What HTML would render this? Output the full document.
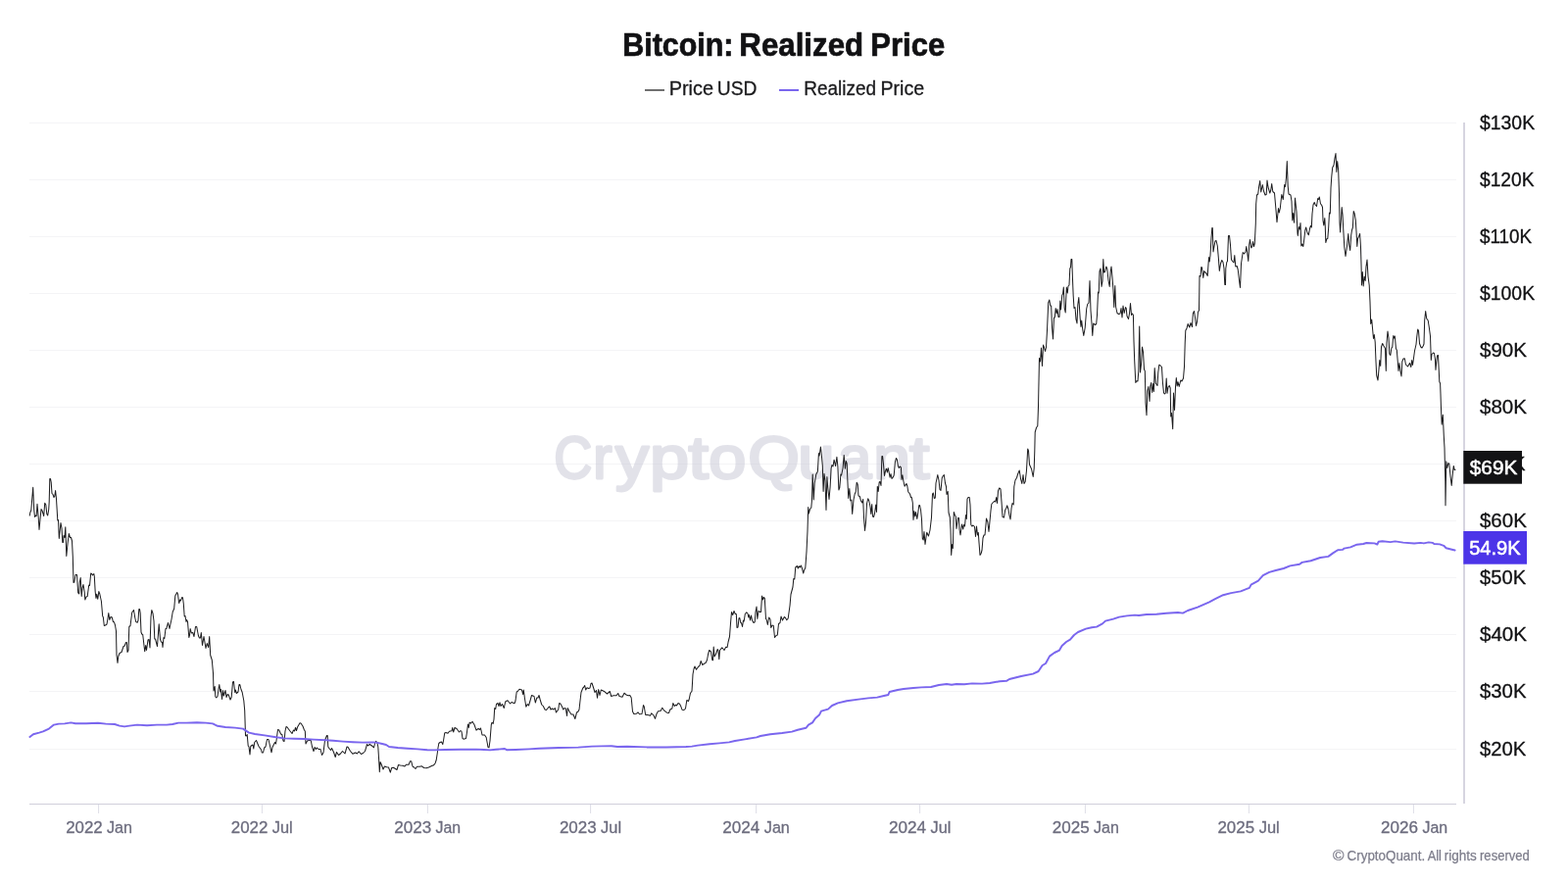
<!DOCTYPE html>
<html lang="en">
<head>
<meta charset="utf-8">
<title>Bitcoin: Realized Price</title>
<style>
html,body{margin:0;padding:0;background:#fff;}
body{width:1600px;height:900px;overflow:hidden;font-family:"Liberation Sans",sans-serif;}
svg{display:block;position:absolute;left:0;top:0;}
text{font-family:"Liberation Sans",sans-serif;}
</style>
</head>
<body>
<svg width="1600" height="900" viewBox="0 0 1600 900" role="img" aria-label="Bitcoin: Realized Price chart">
<rect width="1600" height="900" fill="#ffffff"/>
<text font-size="32.3" fill="#111113" font-weight="700" stroke="#111113" stroke-width="0.7" stroke-linejoin="round"><tspan x="635.3" y="57" textLength="113.19" lengthAdjust="spacingAndGlyphs">Bitcoin:</tspan> <tspan x="754.35" y="57" textLength="126.77" lengthAdjust="spacingAndGlyphs">Realized</tspan> <tspan x="888.27" y="57" textLength="75.87" lengthAdjust="spacingAndGlyphs">Price</tspan></text>
<rect x="658" y="91" width="20" height="2" fill="#707070"/>
<text font-size="19.7" fill="#1b1b1d" stroke="#1b1b1d" stroke-width="0.3" stroke-linejoin="round"><tspan x="682.69" y="96.6" textLength="45.31" lengthAdjust="spacingAndGlyphs">Price</tspan> <tspan x="731.81" y="96.6" textLength="40.62" lengthAdjust="spacingAndGlyphs">USD</tspan></text>
<rect x="795" y="91" width="20" height="2" fill="#7a66ee"/>
<text font-size="19.7" fill="#1b1b1d" stroke="#1b1b1d" stroke-width="0.3" stroke-linejoin="round"><tspan x="820.26" y="96.6" textLength="73.81" lengthAdjust="spacingAndGlyphs">Realized</tspan> <tspan x="898.41" y="96.6" textLength="44.78" lengthAdjust="spacingAndGlyphs">Price</tspan></text>
<g stroke="#f4f4f6" stroke-width="1.2" fill="none">
<line x1="30" y1="125.5" x2="1486" y2="125.5"/>
<line x1="30" y1="183.5" x2="1486" y2="183.5"/>
<line x1="30" y1="241.5" x2="1486" y2="241.5"/>
<line x1="30" y1="299.5" x2="1486" y2="299.5"/>
<line x1="30" y1="357.5" x2="1486" y2="357.5"/>
<line x1="30" y1="415.5" x2="1486" y2="415.5"/>
<line x1="30" y1="473.5" x2="1486" y2="473.5"/>
<line x1="30" y1="531.5" x2="1486" y2="531.5"/>
<line x1="30" y1="589.5" x2="1486" y2="589.5"/>
<line x1="30" y1="647.5" x2="1486" y2="647.5"/>
<line x1="30" y1="705.5" x2="1486" y2="705.5"/>
<line x1="30" y1="764.5" x2="1486" y2="764.5"/>
</g>
<text font-size="62" fill="#c7c7d5" stroke="#c7c7d5" stroke-width="2.8" stroke-linejoin="round" opacity="0.5"><tspan x="565.25" y="487.8" textLength="38.99" lengthAdjust="spacingAndGlyphs">C</tspan><tspan x="605.33" y="487.8" textLength="19.32" lengthAdjust="spacingAndGlyphs">r</tspan><tspan x="628.12" y="487.8" textLength="34.02" lengthAdjust="spacingAndGlyphs">y</tspan><tspan x="662.95" y="487.8" textLength="39.98" lengthAdjust="spacingAndGlyphs">p</tspan><tspan x="702.64" y="487.8" textLength="20.36" lengthAdjust="spacingAndGlyphs">t</tspan><tspan x="723.33" y="487.8" textLength="38.04" lengthAdjust="spacingAndGlyphs">o</tspan><tspan x="763.39" y="487.8" textLength="52.68" lengthAdjust="spacingAndGlyphs">Q</tspan><tspan x="814.36" y="487.8" textLength="37.28" lengthAdjust="spacingAndGlyphs">u</tspan><tspan x="854.92" y="487.8" textLength="34.32" lengthAdjust="spacingAndGlyphs">a</tspan><tspan x="891.17" y="487.8" textLength="37.73" lengthAdjust="spacingAndGlyphs">n</tspan><tspan x="928.04" y="487.8" textLength="20.36" lengthAdjust="spacingAndGlyphs">t</tspan></text>
<text font-size="19.4" fill="#111113" stroke="#111113" stroke-width="0.3" stroke-linejoin="round"><tspan x="1510" y="131.8" textLength="56.08" lengthAdjust="spacingAndGlyphs">$130K</tspan></text>
<text font-size="19.4" fill="#111113" stroke="#111113" stroke-width="0.3" stroke-linejoin="round"><tspan x="1510" y="189.8" textLength="55.57" lengthAdjust="spacingAndGlyphs">$120K</tspan></text>
<text font-size="19.4" fill="#111113" stroke="#111113" stroke-width="0.3" stroke-linejoin="round"><tspan x="1510.01" y="247.8" textLength="53.12" lengthAdjust="spacingAndGlyphs">$110K</tspan></text>
<text font-size="19.4" fill="#111113" stroke="#111113" stroke-width="0.3" stroke-linejoin="round"><tspan x="1510" y="305.8" textLength="56.08" lengthAdjust="spacingAndGlyphs">$100K</tspan></text>
<text font-size="19.4" fill="#111113" stroke="#111113" stroke-width="0.3" stroke-linejoin="round"><tspan x="1509.98" y="363.8" textLength="48.03" lengthAdjust="spacingAndGlyphs">$90K</tspan></text>
<text font-size="19.4" fill="#111113" stroke="#111113" stroke-width="0.3" stroke-linejoin="round"><tspan x="1509.98" y="421.8" textLength="48.03" lengthAdjust="spacingAndGlyphs">$80K</tspan></text>
<text font-size="19.4" fill="#111113" stroke="#111113" stroke-width="0.3" stroke-linejoin="round"><tspan x="1509.99" y="479.8" textLength="46.61" lengthAdjust="spacingAndGlyphs">$70K</tspan></text>
<text font-size="19.4" fill="#111113" stroke="#111113" stroke-width="0.3" stroke-linejoin="round"><tspan x="1509.98" y="537.8" textLength="47.83" lengthAdjust="spacingAndGlyphs">$60K</tspan></text>
<text font-size="19.4" fill="#111113" stroke="#111113" stroke-width="0.3" stroke-linejoin="round"><tspan x="1509.99" y="595.8" textLength="47.12" lengthAdjust="spacingAndGlyphs">$50K</tspan></text>
<text font-size="19.4" fill="#111113" stroke="#111113" stroke-width="0.3" stroke-linejoin="round"><tspan x="1509.98" y="653.8" textLength="48.03" lengthAdjust="spacingAndGlyphs">$40K</tspan></text>
<text font-size="19.4" fill="#111113" stroke="#111113" stroke-width="0.3" stroke-linejoin="round"><tspan x="1509.98" y="711.8" textLength="47.52" lengthAdjust="spacingAndGlyphs">$30K</tspan></text>
<text font-size="19.4" fill="#111113" stroke="#111113" stroke-width="0.3" stroke-linejoin="round"><tspan x="1509.98" y="770.8" textLength="47.32" lengthAdjust="spacingAndGlyphs">$20K</tspan></text>
<line x1="30" y1="820.5" x2="1486" y2="820.5" stroke="#d0cfdb" stroke-width="1.2"/>
<line x1="1494" y1="125" x2="1494" y2="820" stroke="#d2d1dd" stroke-width="1.8"/>
<g stroke="#dedee7" stroke-width="1">
<line x1="100.6" y1="821" x2="100.6" y2="830"/>
<line x1="267.4" y1="821" x2="267.4" y2="830"/>
<line x1="436.4" y1="821" x2="436.4" y2="830"/>
<line x1="602.6" y1="821" x2="602.6" y2="830"/>
<line x1="771.6" y1="821" x2="771.6" y2="830"/>
<line x1="938.6" y1="821" x2="938.6" y2="830"/>
<line x1="1107.4" y1="821" x2="1107.4" y2="830"/>
<line x1="1274.4" y1="821" x2="1274.4" y2="830"/>
<line x1="1442.4" y1="821" x2="1442.4" y2="830"/>
</g>
<text font-size="16.3" fill="#6c6c7e" stroke="#6c6c7e" stroke-width="0.3" stroke-linejoin="round"><tspan x="67.22" y="849.8" textLength="37.51" lengthAdjust="spacingAndGlyphs">2022</tspan> <tspan x="108.91" y="849.8" textLength="25.96" lengthAdjust="spacingAndGlyphs">Jan</tspan></text>
<text font-size="16.3" fill="#6c6c7e" stroke="#6c6c7e" stroke-width="0.3" stroke-linejoin="round"><tspan x="235.81" y="849.8" textLength="37.57" lengthAdjust="spacingAndGlyphs">2022</tspan> <tspan x="277.85" y="849.8" textLength="20.91" lengthAdjust="spacingAndGlyphs">Jul</tspan></text>
<text font-size="16.3" fill="#6c6c7e" stroke="#6c6c7e" stroke-width="0.3" stroke-linejoin="round"><tspan x="402.31" y="849.8" textLength="37.98" lengthAdjust="spacingAndGlyphs">2023</tspan> <tspan x="444.61" y="849.8" textLength="25.54" lengthAdjust="spacingAndGlyphs">Jan</tspan></text>
<text font-size="16.3" fill="#6c6c7e" stroke="#6c6c7e" stroke-width="0.3" stroke-linejoin="round"><tspan x="570.91" y="849.8" textLength="37.78" lengthAdjust="spacingAndGlyphs">2023</tspan> <tspan x="613.1" y="849.8" textLength="20.97" lengthAdjust="spacingAndGlyphs">Jul</tspan></text>
<text font-size="16.3" fill="#6c6c7e" stroke="#6c6c7e" stroke-width="0.3" stroke-linejoin="round"><tspan x="737.31" y="849.8" textLength="38.05" lengthAdjust="spacingAndGlyphs">2024</tspan> <tspan x="779.8" y="849.8" textLength="26.07" lengthAdjust="spacingAndGlyphs">Jan</tspan></text>
<text font-size="16.3" fill="#6c6c7e" stroke="#6c6c7e" stroke-width="0.3" stroke-linejoin="round"><tspan x="907.06" y="849.8" textLength="38.1" lengthAdjust="spacingAndGlyphs">2024</tspan> <tspan x="949.55" y="849.8" textLength="20.91" lengthAdjust="spacingAndGlyphs">Jul</tspan></text>
<text font-size="16.3" fill="#6c6c7e" stroke="#6c6c7e" stroke-width="0.3" stroke-linejoin="round"><tspan x="1073.71" y="849.8" textLength="37.97" lengthAdjust="spacingAndGlyphs">2025</tspan> <tspan x="1116.01" y="849.8" textLength="25.8" lengthAdjust="spacingAndGlyphs">Jan</tspan></text>
<text font-size="16.3" fill="#6c6c7e" stroke="#6c6c7e" stroke-width="0.3" stroke-linejoin="round"><tspan x="1242.46" y="849.8" textLength="37.61" lengthAdjust="spacingAndGlyphs">2025</tspan> <tspan x="1284.7" y="849.8" textLength="21.07" lengthAdjust="spacingAndGlyphs">Jul</tspan></text>
<text font-size="16.3" fill="#6c6c7e" stroke="#6c6c7e" stroke-width="0.3" stroke-linejoin="round"><tspan x="1409.11" y="849.8" textLength="37.89" lengthAdjust="spacingAndGlyphs">2026</tspan> <tspan x="1451.46" y="849.8" textLength="25.7" lengthAdjust="spacingAndGlyphs">Jan</tspan></text>
<path d="M30.2 526.5 L30.8 523 L31.8 520.5 L33.7 497.2 L34.7 520 L35.5 527.5 L36.5 526 L37.2 526.5 L38 514.2 L39.2 528 L40 540.5 L41 530 L42 519.5 L43 521 L44.7 526.5 L45.7 513.2 L46.8 515 L47.8 524.5 L48.7 526 L49.7 520 L50.2 512 L50.8 488.5 L51.5 488.5 L52.2 492 L53 503.5 L54 504.5 L55 507.5 L55.8 506.5 L56.6 500.5 L57.5 509 L58.8 531 L59.5 530.5 L60.3 549.5 L61.2 541 L62 533.5 L63 539 L63.8 553.5 L64.5 553.5 L65 546.5 L66 548.5 L66.8 537.8 L67.8 567.5 L69 555 L70.3 544.5 L71.5 548.5 L72.5 548.5 L73.5 552 L74.3 568 L75 594.5 L75.8 594 L77 586.5 L78.5 586.5 L79.7 605 L80.7 606 L81.3 594 L82.2 589.5 L83.2 608.5 L84 600 L85 596.5 L86.2 604 L86.8 612 L88 609 L89.2 608.5 L90.7 597 L91.5 597.5 L92.7 585 L94 586 L94.5 587 L95.8 585.5 L96.3 588 L97.2 604 L98 610.5 L98.7 606.2 L99.8 611.3 L100.8 603.5 L101.8 606 L103.4 613.5 L104.7 628.8 L105.3 629.5 L106.3 638.5 L107.5 638 L109 637 L110 631 L110.8 625.5 L111.8 632.5 L113 629.5 L114.2 629.8 L115.5 634.5 L116.5 634.8 L117.5 638 L118.5 644 L119 668.5 L120 676.5 L120.7 670 L122 666.5 L124 665.5 L126 659.5 L127.2 659 L128.5 655.5 L129.3 655.5 L130 665.5 L131 663.5 L131.8 639.5 L133 638.5 L134.7 625 L136.5 622.5 L137.7 630 L138.7 634.5 L140.2 635.2 L141 633 L141.8 621.5 L142.5 621.5 L143.2 625.5 L144 645 L144.7 647 L145.7 647.5 L147.7 664.8 L148.7 658.5 L149.5 663.5 L151 653 L152 652.5 L153 661 L154 629.5 L154.8 622.5 L156 626 L157 633.5 L157.8 652 L158.5 652 L160.5 659.5 L162.2 636.8 L163.5 652.5 L164.5 655 L165.5 655.5 L166 660.5 L167 650.5 L167.8 651.5 L169 641.5 L169.8 641.5 L171.5 635.5 L173 641.5 L174 636.5 L175 632 L176.2 624.5 L177.7 621 L178.8 608 L180.7 604.5 L181.5 606.5 L182.7 615.5 L183.7 612 L184.3 613 L185.8 609.5 L186.5 610 L187.3 616 L188.2 629 L189 628.5 L190 634.5 L190.5 632.5 L191.5 634.5 L192.8 650.5 L193.5 648 L194.2 641.5 L195.3 646 L196.8 645.5 L198 649.5 L199.5 639.5 L200.7 639.5 L202.5 649 L203.5 651 L204.5 651 L205.3 645.5 L206.5 658.5 L208 649.5 L210 661.5 L211.2 656.5 L212.7 660.5 L213.7 649.5 L214.7 668.5 L216.3 673.5 L217.5 687 L218 705 L219.2 700.5 L219.8 711 L220.8 712 L222 710.5 L223 703 L223.8 698.5 L224.8 706 L225.5 703.5 L226.5 713.5 L227.5 704.5 L228.3 710 L229.2 707 L230 704.5 L231 711.5 L232.2 708.5 L233.2 709 L235 714 L236.2 711.5 L237.5 696 L238.5 695.5 L239.7 706.5 L240.3 704 L241.3 707.5 L243 706 L244 698.5 L244.8 698.5 L246 703.5 L247.2 706.5 L248.8 715 L249.7 725 L250.5 750.5 L251.2 751 L252.2 749.5 L253.2 761 L254 762 L255 770 L255.8 761.5 L257 760.5 L258 760 L258.8 764 L259.7 757.5 L261.5 755.5 L264 761.5 L266.5 765 L267.2 768 L268.5 768 L269.7 763 L271 762 L272.5 754.5 L274 754.5 L275.5 761 L277 767.8 L278 762.5 L280.5 757.5 L281.5 759 L282.2 754.5 L283.5 744.5 L284.8 745 L286.5 749 L287.8 749.5 L289 756 L290 756.5 L291 746 L292 741.5 L293 742 L296 746 L298 748.5 L299.5 745 L300.5 746 L301.5 742.5 L302.5 745.5 L303.5 742 L306 737.8 L307 738 L309 741 L310.5 745 L311.3 746 L312 759 L313.5 756 L315 755.5 L317.2 755.5 L318.5 762 L320 766.5 L321.2 762.5 L322.5 764.5 L323.5 763 L325 764.5 L327 764.5 L328.5 770.5 L330 768 L331.5 755.5 L333.5 750.5 L334.2 750.5 L334.8 762 L336.5 764.5 L337.5 765.5 L338.5 763.5 L340.5 767.5 L342.2 772.5 L343.5 767.5 L345.5 770.5 L347.5 769 L349.5 766.5 L352 769 L354 762 L355 762.2 L357.5 766.5 L360 769.3 L362.5 768 L364.5 769 L366.2 766.8 L368.5 769.5 L370.5 768.5 L372.5 766.5 L374.5 759.5 L375.5 761 L377.2 759.3 L379.5 761 L381.5 762.8 L382.8 757.5 L383.7 756.3 L385 758.5 L385.8 762 L386.5 773 L387.3 787.8 L388 777.5 L389 779.5 L391 785 L392.5 782 L394.5 782.8 L396.5 783 L398.3 788.2 L399.7 783.5 L401.5 783.2 L403.5 784.5 L405 785.5 L406.5 780.5 L408.5 781 L411 781.2 L413 782 L414.5 780.2 L417 780.2 L418.5 776.8 L419.7 776.8 L421 782 L422.5 783 L424 784.5 L425.5 782.2 L428 782.2 L430.5 781.8 L432.5 783.5 L435 783.8 L437.5 783 L440 781.8 L442.5 780.8 L444 779 L445.2 775.5 L446.2 769 L447 763 L447.8 758.5 L449 757.5 L450.5 757 L451.8 759.5 L452.7 754.5 L453.7 748 L455 747.5 L457 748.2 L458.5 746.2 L461 745.8 L461.7 742.5 L462.7 747 L464 742.5 L466 743.5 L468.5 747 L470 745.5 L471 746.5 L472 753.5 L473 754.2 L475.5 753.5 L476.5 747 L477.5 739 L478.3 742.5 L479.2 737.2 L480.7 738 L482 736.2 L484 739.5 L486 745.2 L488 743.5 L489.5 744.5 L490.5 743 L492 750 L494.5 750 L496.2 752.5 L498 762.5 L499 762.8 L500 756 L501.3 739.5 L502 737.2 L503.2 738.5 L504 734 L504.7 722.5 L505.7 723.5 L506.5 718.5 L508 717.5 L509 720.5 L510 716.8 L511 720.5 L512.5 718.5 L514.3 722.5 L515.7 716 L518 714.8 L520.5 718 L522 716.5 L525 717.8 L526 715 L527.2 706 L528.2 705.5 L530 703.2 L532.5 704 L533.7 708.5 L534.3 704 L535.5 713 L536.8 721.2 L538.3 718.5 L539.5 720 L541 715 L542.5 709.5 L545 710.5 L546.3 717 L547.8 712 L549 712 L550 709.5 L551.2 714 L552.7 719 L554.3 720.5 L556 724 L557.5 724.5 L559.5 722 L560.8 721 L562 724 L563.5 723 L564.8 724 L566.3 722.5 L567.5 727 L569.7 724 L570.7 717.5 L571.8 718 L573.5 721 L574.8 724 L576 722.5 L577.3 723 L578.5 730.5 L579.2 722.5 L581 726 L583 729 L585 729 L586.8 733.5 L588.5 727 L590 726 L591 724 L592 715 L593 706.5 L594.8 702 L595.5 701.5 L596.7 699.5 L597.7 704 L599 701.8 L600.5 702.5 L602 702 L603 697.5 L604 697 L605.5 701.5 L607 706.5 L608.5 704.5 L609.5 712.2 L610.7 703.5 L612 709.5 L613.3 704 L615 704.8 L617 705.8 L619.5 708 L622.3 705.5 L623.7 710.5 L626 709.8 L629 709.8 L630.7 707.5 L632 710.5 L635 711.2 L637 707.2 L639 709 L641 709.8 L642.8 709.5 L644.2 712 L645.5 726 L646.8 728.5 L649.5 728.2 L651 726.8 L652.5 728.8 L655 728.5 L656.5 719.5 L657.3 721 L658.7 729.5 L661 729.5 L663.5 730.2 L664.8 727.8 L667 730 L668.5 733.4 L670 728.5 L671.5 725.8 L674 725.5 L675.8 722.2 L677.8 725.2 L680.5 727.2 L682.5 727.5 L683.8 724 L685.8 723 L686.8 717.5 L688.3 720.5 L689.8 719.2 L690.5 720 L692 717.5 L693.5 718.2 L694.8 720.8 L696 724.2 L698 724.5 L699.5 723 L700.8 714.5 L702.5 715.5 L703.2 713.5 L704.5 707.2 L706 705.2 L706.5 697 L707 688 L708 682.5 L709 680 L710.5 683.2 L712.5 680.5 L714 679.2 L715.2 674.5 L716.8 678.5 L718.5 677.2 L720 676.5 L721.5 673.5 L722.5 668 L723.7 663.5 L725.5 665 L726.8 673.5 L727.5 673.8 L728.2 660 L729 670 L730.5 667.5 L732.2 662.5 L733 664 L733.8 672.8 L734.5 663.5 L736.8 660.8 L739 663.5 L740.7 660.2 L742.1 660.5 L743.1 655 L744.5 649.5 L745.5 636 L746.5 624.5 L747.7 627.5 L749 623.5 L750.3 626.5 L751.3 626.5 L752 640.5 L753 640 L754 631 L754.8 630.5 L755.8 635.5 L756.5 635.5 L757.5 639.5 L758.5 633 L759.2 634 L760.3 626.5 L761.8 624.8 L763 626 L763.8 630 L764.5 627.5 L765.5 633 L766.5 628 L767.5 633 L769 635.5 L770.2 634.8 L771 624.5 L772 619 L772.8 631.5 L774 623.5 L775.5 624.5 L776.5 624.5 L777.5 608 L778.5 612 L779.2 609.5 L780.3 610.5 L781.5 631.5 L782.3 632.5 L783.3 637.5 L784.7 630 L786 632 L786.7 640.5 L788 638 L789.3 638.5 L790.5 650.5 L792 648.5 L793.3 648 L794.5 636.5 L796 635.5 L797 629 L798.5 633 L800.3 629.5 L801.5 630.5 L802.8 632.8 L804.2 631 L806 618 L807 606.5 L809 599 L809.8 590.5 L810.8 591 L811.7 579 L813.5 577.5 L814.3 580 L815.3 577.8 L816.2 579 L817.3 577 L818.3 579.5 L819.8 585 L820.5 582 L821.8 579.5 L822.5 570 L823 563 L824 542 L824.7 517.5 L825.3 524 L826.5 519.5 L827.8 518 L828.5 510 L829.2 484 L830.3 510 L831.2 493 L832.8 484 L834.4 481 L835.4 462.5 L836.1 465 L837.4 456 L838.4 465 L839.3 475 L840.1 501.5 L841 483.3 L842 490.5 L843 520.5 L843.9 486.5 L844.8 498 L846 509.5 L847.1 497 L848.1 478 L848.9 474.5 L850 476 L851.1 469.2 L852.6 475.6 L853.9 466.2 L854.9 476 L855.9 500 L856.8 497.6 L857.9 484 L858.6 485 L860.1 477.5 L861.2 464.4 L862.4 478.2 L863.3 470.4 L864.2 473 L864.9 490.5 L865.7 508.5 L866.8 498.5 L867.8 511 L868.8 510 L869.7 524.5 L871 510 L872.2 504 L873.2 502 L874.2 492.3 L875.2 494.3 L876 506 L877.3 506.5 L878.5 511 L879.7 513 L880.7 509.5 L881.5 528 L882.5 541.5 L883.5 533 L884.5 514 L885.7 508.8 L886.8 511 L888 517 L888.8 524.5 L889.7 514.5 L890.5 527 L891.5 527.5 L892.5 524 L893.7 515 L894.5 522.5 L895.3 496.3 L896.2 501.5 L897.2 492 L898 491.5 L899 495.5 L899.9 465.5 L900.6 465.5 L901.5 473.8 L902.5 485.4 L903.4 481.2 L904.4 478.2 L905.4 482 L906.2 477.5 L907.1 481.6 L908.1 487.2 L909 483.5 L910 488.4 L911.1 487.2 L912.2 485 L913.4 471.5 L914.5 467.4 L915.4 468.9 L916.4 475.6 L917.3 477.5 L918.2 476 L919.4 476.8 L920 489.5 L920.9 484.8 L921.9 491 L923.1 496.2 L924.9 493.5 L925.8 496 L926.8 502 L928.5 504 L929.5 507.5 L930.3 507.5 L931.3 513 L932 530.5 L932.8 521.5 L933.8 527 L934.5 522.5 L935.8 529.5 L936.8 523 L937.8 515.5 L938.5 515.5 L939.5 520 L940.5 530 L941.3 549.5 L942.2 551 L943 542.5 L944 555.5 L945.7 543.2 L947.5 547 L949 541 L950.5 528 L951.5 504 L952.3 503 L953.3 508.5 L954.3 508 L955 493 L956.8 484.5 L958 490 L959 499.5 L960 500.5 L961.2 488 L962 486 L963.3 484.5 L964.5 493 L965.5 496.5 L966 504.5 L967.2 501.5 L968 523 L969.3 528 L970 540.5 L970.7 566.5 L971.5 555.5 L972.3 559.5 L973.3 522.5 L974.5 526 L975.3 527 L976 539.5 L977.5 528.5 L978.5 528.5 L979 540 L980 546 L981.5 535 L982.8 540 L983.5 535.5 L984.5 537 L985.5 525.5 L986.3 529.5 L987 509 L988 507.5 L989.2 507.5 L990 515 L990.8 535.5 L991.8 537 L993 536 L994.5 537.5 L995.5 547.5 L996.5 537 L997.5 546 L998.3 543.5 L999 553.5 L1000 566.5 L1001 565 L1002 561.5 L1003 549 L1004 546 L1005 546 L1005.8 537.5 L1006.5 529 L1007.8 532.5 L1009 542.5 L1010 532 L1011 521 L1011.8 514.5 L1013 513 L1014.5 511.5 L1015.7 512 L1016.7 507.5 L1017.5 513.5 L1018.5 501 L1019.7 498 L1021 499 L1022 512 L1023 527.5 L1024.5 528 L1025.7 520.5 L1026.8 518.5 L1027.7 515.8 L1029 520 L1030 526 L1031 530 L1032 519 L1033 513.5 L1034.2 515 L1034.8 496.5 L1036 490 L1037.5 487.5 L1038.5 484 L1040.2 480 L1041.5 488.3 L1042.8 493.5 L1044 484.5 L1045 493.5 L1046.2 491.5 L1047.5 480 L1048.7 458 L1049.5 460 L1050.5 474 L1052.5 478.5 L1054.2 486.5 L1055.2 478 L1055.8 460 L1056.2 441 L1057.5 436.5 L1058.8 434.5 L1059.5 415 L1060 390 L1060.5 365.5 L1061.5 369 L1062.5 355 L1063.5 373.5 L1064.5 352 L1065.5 354.5 L1066.5 358.5 L1067.5 354.5 L1068.5 337 L1069.7 309 L1070.8 306 L1071.8 312 L1072.7 312 L1073.5 334 L1074.5 346 L1075.5 324 L1076.3 324 L1077.2 314.5 L1078.2 320 L1079 315.5 L1080 323.5 L1081 323.5 L1081.8 307 L1082.5 316 L1083.8 301 L1084.5 300 L1085.3 293 L1086.2 314.5 L1087.2 319 L1088.3 293 L1089.3 299 L1090 292 L1091 291 L1091.8 274 L1092.5 272.5 L1093 264.5 L1093.8 264.5 L1094.5 285 L1095.2 302 L1096 314.5 L1097 313.5 L1098 326 L1099 330 L1099.8 311 L1100.8 303.5 L1101.5 314 L1102.2 325 L1103 333.5 L1103.7 327 L1104.7 336 L1105.8 342.5 L1107.2 334.5 L1108.7 315 L1109.7 310.5 L1111 309 L1112 286.5 L1113 317 L1114 330 L1114.8 342.5 L1115.7 330 L1117.5 331.5 L1118.7 330.5 L1119.5 321.5 L1120.5 298 L1121.2 299 L1122 277 L1123 274 L1124 292.5 L1125 287 L1125.8 264.5 L1126.5 278 L1127.5 277.5 L1128.8 272 L1129.8 274.5 L1131 286 L1132.2 292.5 L1133.2 277 L1134 272 L1135 283 L1136 296 L1136.8 313.5 L1137.8 291.5 L1138.6 313 L1140 319.5 L1141.5 320.5 L1143 320 L1144 314.5 L1145 324 L1146 312 L1147.2 319.5 L1148.5 313.5 L1149.2 314.5 L1150 322.5 L1151.5 325.5 L1152.5 320 L1153.5 309.5 L1154.5 321.5 L1155.5 320 L1156.4 321.5 L1157 348.5 L1157.7 368 L1158.8 390.5 L1159.8 388.7 L1161 389 L1161.8 378.5 L1162.7 333 L1163.5 380 L1164.5 372 L1165.5 354 L1166.5 359 L1167.5 377 L1168.3 378.5 L1169 411 L1170 423.8 L1170.8 399 L1171.8 394.5 L1173 409.5 L1173.7 394.5 L1174.7 390.5 L1175.7 400.5 L1176.7 391.5 L1177.4 399.5 L1178.2 375.5 L1179.3 391 L1181 393.5 L1181.8 380 L1182.8 372.3 L1184 373 L1185.5 374.5 L1186.4 390 L1187.5 401 L1188.5 402 L1189.3 401 L1190.2 386 L1191 401.3 L1192 395 L1193.2 393.5 L1194.2 396 L1194.7 425 L1195.5 421.5 L1196.7 437.8 L1197.5 401 L1198.5 418.5 L1199.5 395 L1200.3 385.5 L1201.2 394 L1202 389.7 L1203.2 394.5 L1204.8 388 L1206 389 L1207.5 386 L1208.5 374 L1209.2 350 L1209.8 337.2 L1211 335 L1212.2 330.5 L1213.8 334 L1215 329.5 L1216.5 333.5 L1217.3 320 L1218.5 317.5 L1219.5 324 L1220.5 332.5 L1221.5 328.5 L1222.5 318 L1223.5 317 L1223.8 298 L1224 281.5 L1225 282 L1225.8 272.5 L1226.5 273 L1227.8 283.5 L1228.7 276.5 L1229.8 278 L1231 279 L1232.2 281.5 L1233.5 262.5 L1234.2 267 L1235 260.5 L1236 243 L1236.8 232.5 L1237.3 232.5 L1238 257 L1239 251 L1240 246 L1241 245.5 L1242.3 251 L1243.5 265 L1244.3 276.5 L1245.5 269 L1246.8 265.5 L1248 267.5 L1249 274 L1249.8 290.5 L1250.5 290.5 L1250.8 274 L1251.8 267.5 L1252.5 266.5 L1253.5 240.5 L1254.5 240.5 L1255.5 250 L1256.5 265 L1258 267 L1259 268 L1259.8 260.5 L1260.8 272 L1262.2 271.5 L1263.2 275 L1264.5 286 L1265.5 293.5 L1266.5 269 L1268.2 257.5 L1269.5 259 L1271 257 L1271.8 251.5 L1272.8 258.5 L1273.8 266.5 L1274.7 249.5 L1275.5 244.5 L1276.7 253 L1277.8 251.5 L1278.5 246.5 L1279.5 251.5 L1280.3 248.5 L1281 234.5 L1281.3 228 L1281.7 208 L1282.5 199 L1283.7 198 L1284.7 190 L1285.7 184.5 L1286.7 196 L1288.3 188.5 L1289.5 195 L1291 199 L1292.2 198.5 L1293 184 L1294 191 L1295.8 197 L1296.8 194 L1297.7 187.5 L1298.8 195.5 L1300.5 197 L1301.8 212 L1303 226.7 L1304.5 212.5 L1305.3 217 L1306.3 212.5 L1307.8 198.5 L1309.3 203.5 L1310.7 188.5 L1311.5 190.5 L1312.5 181 L1313.3 164.5 L1314.2 190 L1315 198 L1317 199 L1318 205.5 L1318.8 225 L1319.7 217.5 L1320.5 227.2 L1321.5 202 L1323 216 L1324 238 L1324.3 240.5 L1325.3 231.5 L1326.3 234 L1327 227.5 L1327.8 251 L1328.8 249 L1329.8 251.5 L1330.8 244 L1331.8 235 L1332.7 232 L1334 237.5 L1335.3 239.8 L1336.5 233.5 L1337.4 230.3 L1338.3 232 L1339 218 L1340 209 L1341.2 206.5 L1342.2 209 L1343.5 210.5 L1344.7 202.5 L1345.5 203.5 L1346.3 201 L1347.5 208 L1348.5 209 L1349.5 211.5 L1350 225 L1350.8 230 L1351.8 222.5 L1352.3 232 L1352.8 247.5 L1353.8 243.8 L1354.8 243.5 L1355.7 232 L1356.1 224 L1356.5 217 L1357.3 218 L1358 192 L1358.8 180 L1359.7 171 L1361 168.5 L1362 161.5 L1363 156.5 L1363.8 175.5 L1364.7 164.5 L1365.7 174 L1366.5 198 L1367 227 L1367.6 237 L1368.4 225 L1369.2 211.5 L1370 219 L1370.8 235 L1371.8 252 L1373 261.5 L1374.5 251 L1375.8 238.5 L1376.7 250 L1377.7 255.5 L1378.7 240 L1379.5 235 L1380.4 232 L1381.2 215.5 L1382.2 218 L1383.3 224.5 L1384 236 L1384.8 251.5 L1385.5 243.5 L1386.5 241.5 L1387.6 238.5 L1388.5 252 L1389 269 L1389.5 291 L1390.3 277.5 L1391.2 292 L1392.2 282 L1393.2 286.5 L1394 272 L1395 265 L1396 282 L1397.2 291 L1398 308 L1398.7 330.5 L1399.7 326 L1400.7 337 L1401.5 345.5 L1402.3 341.5 L1403.2 349 L1404 369 L1404.7 383 L1406 388 L1407 377 L1407.8 367.5 L1408.7 373.5 L1409.5 354 L1410.7 350.5 L1412 353 L1413.5 355.5 L1414.3 378.5 L1415 350 L1416 338 L1417 345 L1417.8 361 L1418.8 362.5 L1419.8 355.5 L1420.8 354 L1421.8 342.5 L1422.5 345 L1423.3 343 L1424.5 356 L1425.3 357 L1426.2 368 L1427 378.5 L1428 370.5 L1429 379 L1430 384 L1430.8 369 L1432 366 L1433.3 365.8 L1434.5 372 L1436.5 374 L1438.5 370.5 L1439.8 374.5 L1440.7 367.5 L1441.5 372.5 L1442.3 367 L1443.5 358 L1445 351.5 L1445.7 344 L1446.7 336 L1447.5 337.5 L1448.5 350.5 L1449.8 354 L1451 355 L1452.2 353 L1453 351 L1453.7 326.5 L1454.7 317.5 L1455.7 325 L1457.2 327 L1458.3 334 L1459.5 343 L1460.3 367.5 L1461 361.5 L1462.5 360 L1463.5 360.5 L1464.5 367 L1465 377.5 L1465.8 369 L1466.5 363 L1467.5 362.5 L1468.2 377 L1468.8 389.6 L1469.6 391.2 L1470 401.7 L1470.4 414.2 L1470.8 423.8 L1471.2 433.3 L1472.3 423.3 L1472.7 431.7 L1473.3 445 L1474 456.7 L1474.3 470.8 L1474.8 491.7 L1475 515.8 L1475.4 491.7 L1475.8 470.8 L1476.7 477.5 L1477.9 472.5 L1478.8 473.3 L1480 485.8 L1481.2 495.4 L1482.5 481.7 L1483.3 475.4 L1484.2 479.6 L1485.4 479.2" fill="none" stroke="#1d1d1f" stroke-width="1.02" stroke-linejoin="round" stroke-linecap="butt"/>
<path d="M30.4 752 L34 749.2 L40 747.6 L44 746.4 L50 743.6 L55 739.6 L60 738.6 L66 738.4 L72.4 737.4 L77 738.2 L88 738.2 L100 737.8 L108 738.6 L117 739 L122 740.6 L127 741.4 L132 740.6 L140 739.6 L150 740.2 L160 739.6 L170 739.6 L176 739 L182 737.6 L190 737.6 L201 737.2 L210 737.6 L217 738.4 L222 740.8 L230 742 L240 742.6 L248 743.6 L254 747.6 L260 749 L270 750.4 L280 752 L290 753.4 L300 753.8 L310 754 L320 754.6 L332 755.2 L340 755.8 L350 756.6 L360 757.2 L370 757.6 L380 757.4 L384 757.6 L390 759 L394 760 L397 762 L406 763 L416 763.8 L426 764.4 L436 765.2 L444 765.4 L454 765 L470 764.8 L486 764.6 L494 765 L500 765.4 L506 764.8 L515 764 L517 765.2 L526 765 L540 764.4 L550 763.8 L570 763 L590 762.6 L604 761.6 L614 761.4 L624 761.2 L630 762 L640 761.8 L660 762.4 L680 762.4 L700 762 L706 761.6 L712 760.6 L724 759.2 L734 758.4 L744 757.4 L750 756 L760 754.4 L772 752.4 L776 751 L786 749.2 L798 748 L808 746.6 L814 744.8 L822.4 742.8 L825 739.6 L829 737.4 L832 733 L836 729.6 L838 725.6 L845 723.6 L849 720 L855 717.4 L864 715.2 L876 713.6 L886 712.4 L895 711.6 L902 710 L906.4 709 L907.6 706 L916 704 L922 703 L932 702 L940 701.4 L950 701 L958 699 L966 698 L971 698.8 L976 698 L984 698.2 L992 697.4 L1002 697.6 L1010 697 L1020 695.2 L1027 694.8 L1030 693 L1042 690 L1054 687.6 L1059.6 685 L1063.6 679 L1067 677 L1071 669.6 L1076 666 L1081 663.6 L1083.6 659 L1088 655 L1092 652.6 L1096 648 L1100 645 L1108 641.6 L1114 640.2 L1119 639.6 L1125 636.4 L1128 633.6 L1136 631.6 L1142 629.6 L1150 628.4 L1158 627.6 L1162 628 L1170 627 L1180 626.8 L1190 625.8 L1202 625 L1207 625.6 L1212 623 L1222 619.6 L1234 614.4 L1240 611.2 L1248.1 607.2 L1256.2 605.1 L1266 603.4 L1274.9 599.9 L1276.6 596.6 L1283.9 592.6 L1288.8 587.2 L1295.2 583.9 L1301.8 582 L1309.9 580 L1316.4 577.4 L1326.1 575.8 L1328.6 573.9 L1337.5 572.2 L1347.2 569 L1355.4 567.9 L1360.2 564.4 L1365.1 561.2 L1370 560.9 L1371.6 559.6 L1378.1 558.4 L1384.6 555.7 L1391.1 555 L1394.4 554 L1402.5 554.4 L1405.4 555.5 L1406.6 552.8 L1410.6 552.3 L1418.8 553.1 L1423.6 552.4 L1431.8 553.6 L1443.1 554.5 L1449.6 553.9 L1452.9 554.4 L1457.8 553.4 L1461.8 553.9 L1463.4 555 L1469.1 555.4 L1473.2 556.8 L1475.6 559.2 L1480.5 560.5 L1484.6 561.5" fill="none" stroke="#7a66ee" stroke-width="1.95" stroke-linejoin="round" stroke-linecap="round"/>
<rect x="1493.3" y="460" width="59.7" height="33.7" fill="#131315"/>
<text font-size="20" fill="#ffffff" stroke="#ffffff" stroke-width="0.55" stroke-linejoin="round"><tspan x="1499.8" y="484.1" textLength="48.56" lengthAdjust="spacingAndGlyphs">$69K</tspan></text>
<rect x="1493.3" y="542" width="64.7" height="33.7" fill="#4c35e8"/>
<text font-size="20" fill="#ffffff" stroke="#ffffff" stroke-width="0.55" stroke-linejoin="round"><tspan x="1499.23" y="566.2" textLength="52.4" lengthAdjust="spacingAndGlyphs">54.9K</tspan></text>
<text font-size="14.6" fill="#7d7d8b" stroke="#7d7d8b" stroke-width="0.25" stroke-linejoin="round"><tspan x="1360.09" y="877.6" textLength="11.47" lengthAdjust="spacingAndGlyphs">©</tspan> <tspan x="1374.57" y="877.6" textLength="79.63" lengthAdjust="spacingAndGlyphs">CryptoQuant.</tspan> <tspan x="1456.71" y="877.6" textLength="14.25" lengthAdjust="spacingAndGlyphs">All</tspan> <tspan x="1473.8" y="877.6" textLength="33.07" lengthAdjust="spacingAndGlyphs">rights</tspan> <tspan x="1510.03" y="877.6" textLength="50.85" lengthAdjust="spacingAndGlyphs">reserved</tspan></text>
</svg>
</body>
</html>
